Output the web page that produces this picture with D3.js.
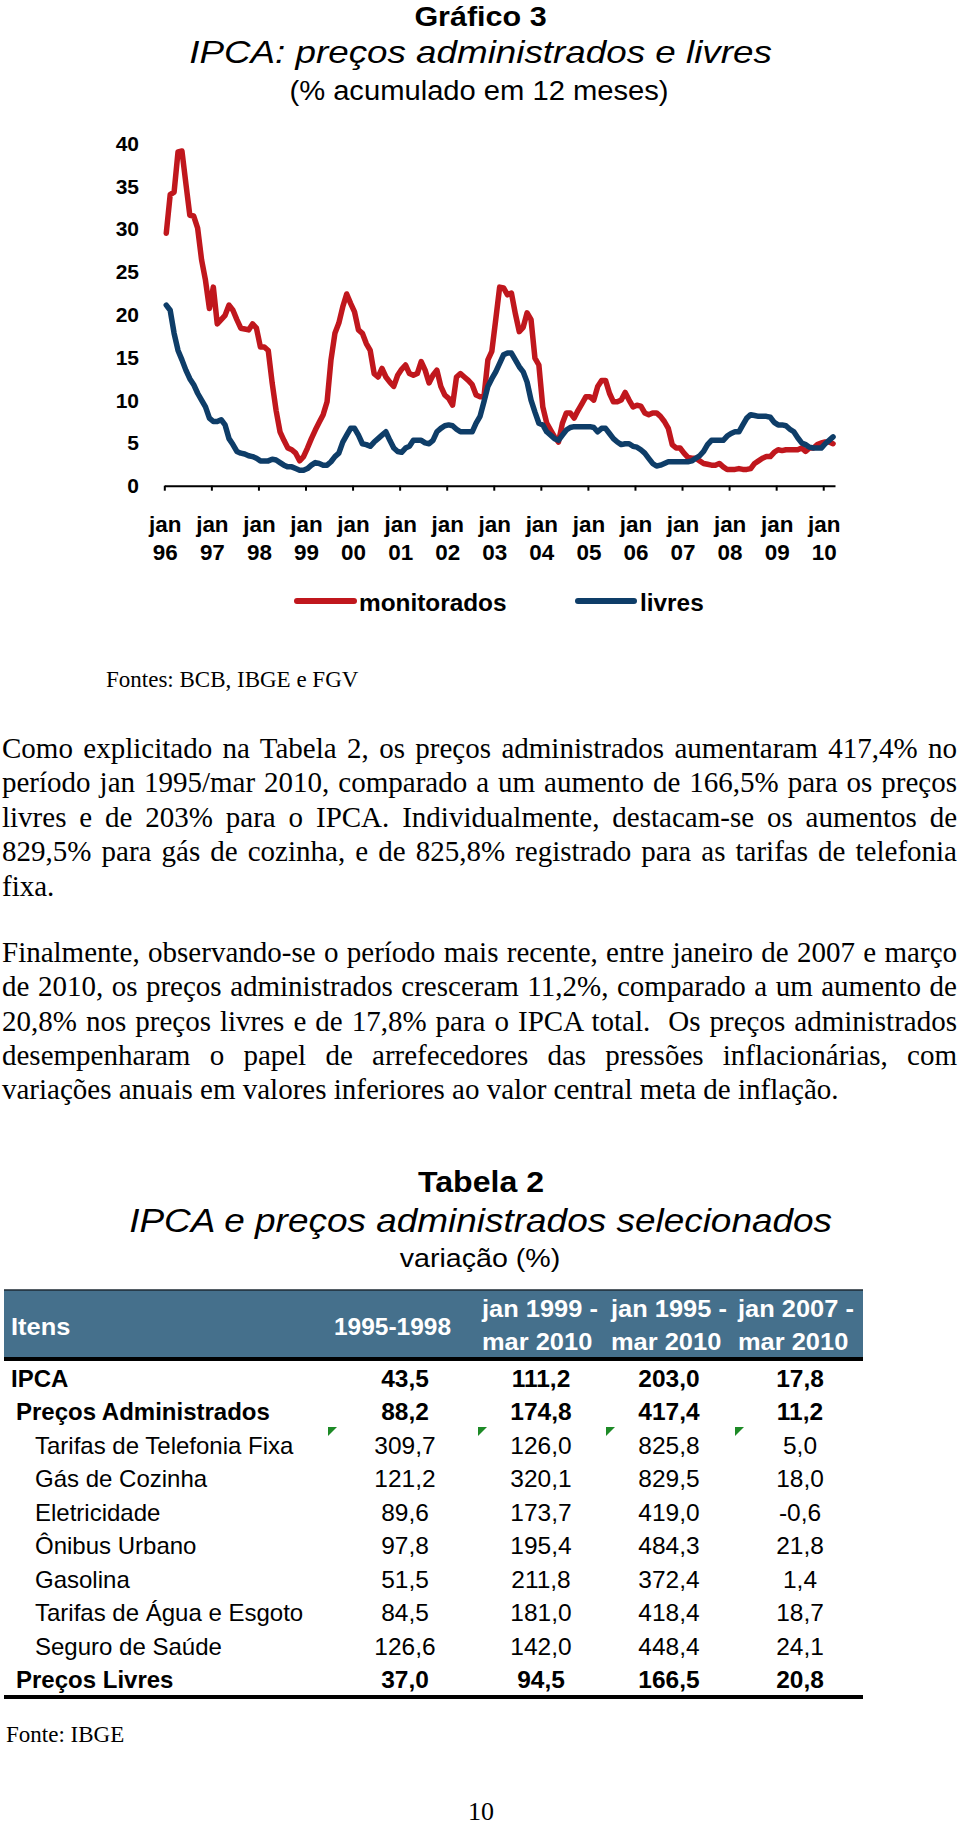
<!DOCTYPE html>
<html><head><meta charset="utf-8">
<script src="https://cdn.jsdelivr.net/npm/d3@7/dist/d3.min.js"></script>
<style>
html,body{margin:0;padding:0;background:#fff;}
svg{display:block;}
</style></head><body>
<svg id="page" width="960" height="1828"></svg>
<script>
// ---------------- DATA ----------------
const yearLabels = ["96","97","98","99","00","01","02","03","04","05","06","07","08","09","10"];
const yTicks = [0,5,10,15,20,25,30,35,40];
// % acumulado em 12 meses, monthly jan 1996 .. mar 2010
const monitorados = [
 29.5,34.0,34.3,39.0,39.1,35.3,31.6,31.5,30.1,26.4,24.0,20.7,
 23.2,18.9,19.4,19.9,21.1,20.5,19.4,18.4,18.3,18.2,18.9,18.4,
 16.2,16.2,15.8,12.0,8.8,6.3,5.3,4.4,4.2,3.8,2.9,3.4,
 4.4,5.5,6.5,7.4,8.3,9.8,14.7,17.8,19.0,20.9,22.4,21.3,
 20.3,18.2,17.8,16.6,15.8,13.1,12.7,13.7,12.7,12.1,11.6,12.9,
 13.6,14.1,13.1,12.9,13.1,14.5,13.5,12.0,12.9,13.5,11.6,10.6,
 10.2,9.4,12.7,13.1,12.7,12.3,11.8,10.6,10.4,10.4,14.7,15.7,
 19.4,23.2,23.1,22.3,22.5,20.1,18.0,18.5,20.2,19.4,14.9,14.1,
 9.2,7.3,6.5,5.7,5.1,7.3,8.5,8.5,7.9,8.8,9.6,10.4,
 10.4,10.0,11.6,12.3,12.3,10.8,9.8,9.8,10.0,10.9,10.0,9.2,
 9.4,9.3,8.5,8.3,8.5,8.5,8.1,7.5,6.7,4.8,4.4,4.4,
 3.8,3.3,3.2,3.2,2.9,2.6,2.5,2.4,2.4,2.6,2.2,1.9,
 1.9,1.9,2.0,1.9,1.9,2.0,2.6,2.9,3.2,3.4,3.4,3.9,
 4.2,4.1,4.2,4.2,4.2,4.2,4.4,4.0,4.4,4.4,4.8,5.0,
 5.1,5.1,4.9
];
const livres = [
 21.1,20.5,17.8,15.8,14.7,13.5,12.5,11.8,10.8,10.0,9.2,7.9,
 7.5,7.5,7.7,7.1,5.5,4.8,4.0,3.8,3.7,3.5,3.4,3.2,
 2.9,2.9,2.9,3.1,3.0,2.7,2.4,2.2,2.2,2.0,1.8,1.8,
 2.0,2.4,2.7,2.6,2.4,2.4,2.8,3.4,3.8,5.1,5.9,6.7,
 6.7,5.9,4.9,4.8,4.6,5.1,5.5,5.9,6.3,5.3,4.4,4.0,
 3.9,4.4,4.6,5.3,5.3,5.3,5.0,4.9,5.3,6.3,6.7,7.0,
 7.1,7.0,6.6,6.3,6.3,6.3,6.3,7.3,8.1,9.8,11.6,12.5,
 13.3,14.3,15.3,15.5,15.5,14.7,13.9,13.3,12.1,10.0,8.6,7.3,
 7.1,6.3,5.9,5.5,5.3,5.9,6.5,6.8,6.9,6.9,6.9,6.9,
 6.9,6.8,6.3,6.7,6.7,6.1,5.5,5.1,4.8,4.9,4.9,4.6,
 4.5,4.2,3.8,3.2,2.6,2.3,2.4,2.6,2.8,2.8,2.8,2.8,
 2.8,2.8,2.9,3.2,3.5,4.0,4.8,5.3,5.3,5.3,5.3,5.8,
 6.1,6.3,6.3,7.1,7.9,8.3,8.2,8.1,8.1,8.1,8.0,7.4,
 7.1,7.1,7.0,6.6,6.3,5.6,5.0,4.8,4.5,4.4,4.4,4.4,
 4.9,5.3,5.7
];
const seriesNames = ["monitorados","livres"];
const seriesColors = ["#c0171d","#0e3d68"];

const paragraph1 = [
 "Como explicitado na Tabela 2, os preços administrados aumentaram 417,4% no",
 "período jan 1995/mar 2010, comparado a um aumento de 166,5% para os preços",
 "livres e de 203% para o IPCA. Individualmente, destacam-se os aumentos de",
 "829,5% para gás de cozinha, e de 825,8% registrado para as tarifas de telefonia",
 "fixa."
];
const paragraph2 = [
 "Finalmente, observando-se o período mais recente, entre janeiro de 2007 e março",
 "de 2010, os preços administrados cresceram 11,2%, comparado a um aumento de",
 "20,8% nos preços livres e de 17,8% para o IPCA total.  Os preços administrados",
 "desempenharam o papel de arrefecedores das pressões inflacionárias, com",
 "variações anuais em valores inferiores ao valor central meta de inflação."
];

const tableItems = ["IPCA","Preços Administrados","Tarifas de Telefonia Fixa","Gás de Cozinha","Eletricidade","Ônibus Urbano","Gasolina","Tarifas de Água e Esgoto","Seguro de Saúde","Preços Livres"];
const itemLevel = [0,1,2,2,2,2,2,2,2,1];
const itemBold = [true,true,false,false,false,false,false,false,false,true];
const headerCols = [["1995-1998"],["jan 1999 -","mar 2010"],["jan 1995 -","mar 2010"],["jan 2007 -","mar 2010"]];
const col1995_1998 = ["43,5","88,2","309,7","121,2","89,6","97,8","51,5","84,5","126,6","37,0"];
const colJan1999 = ["111,2","174,8","126,0","320,1","173,7","195,4","211,8","181,0","142,0","94,5"];
const colJan1995 = ["203,0","417,4","825,8","829,5","419,0","484,3","372,4","418,4","448,4","166,5"];
const colJan2007 = ["17,8","11,2","5,0","18,0","-0,6","21,8","1,4","18,7","24,1","20,8"];
const flaggedRow = 2; // cells with green error indicators

// ---------------- HELPERS ----------------
const SANS = "'Liberation Sans', Arial, sans-serif";
const SERIF = "'Liberation Serif', 'Times New Roman', serif";
const svg = d3.select("#page");

function T(parent, x, y, s, o = {}) {
  return parent.append("text")
    .attr("transform", `translate(${x},${y}) scale(${o.sx || 1},1)`)
    .attr("font-family", o.family || SANS)
    .attr("font-size", o.size || 20)
    .attr("font-weight", o.weight || "normal")
    .attr("font-style", o.style || "normal")
    .attr("text-anchor", o.anchor || "start")
    .attr("fill", o.fill || "#000")
    .style("white-space", "pre")
    .text(s);
}

function para(lines, x0, y0, pitch, width, size) {
  const g = svg.append("g");
  lines.forEach((str, i) => {
    const t = g.append("text").attr("x", x0).attr("y", y0 + i * pitch)
      .attr("font-family", SERIF).attr("font-size", size)
      .style("white-space", "pre").attr("fill", "#000").text(str);
    if (i < lines.length - 1) {
      const nat = t.node().getComputedTextLength();
      const nsp = (str.match(/ /g) || []).length;
      t.style("word-spacing", ((width - nat) / nsp) + "px");
      const after = t.node().getComputedTextLength();
      if (Math.abs(after - width) > 3) {
        t.style("word-spacing", null).attr("textLength", width).attr("lengthAdjust", "spacing");
      }
    }
  });
}

// ---------------- TITLES ----------------
T(svg, 480.5, 26, "Gráfico 3", {size: 27, weight: "bold", anchor: "middle", sx: 1.13});
T(svg, 480.5, 63, "IPCA: preços administrados e livres", {size: 32, style: "italic", anchor: "middle", sx: 1.15});
T(svg, 479, 100, "(% acumulado em 12 meses)", {size: 27, anchor: "middle", sx: 1.08});

// ---------------- CHART ----------------
const x = d3.scaleLinear().domain([0, 171]).range([164.3, 835]);
const y = d3.scaleLinear().domain([0, 40]).range([485.7, 143.3]);

const chart = svg.append("g");
// y labels
yTicks.forEach(v => {
  T(chart, 139, y(v) + 7.5, String(v), {size: 21, weight: "bold", anchor: "end"});
});
// x axis
const xAxis = d3.axisBottom(x).tickValues(d3.range(0, 169, 12)).tickSize(5).tickSizeOuter(0).tickFormat("");
const ax = chart.append("g").attr("transform", `translate(0,${y(0)})`).call(xAxis);
ax.select(".domain").attr("stroke", "#000").attr("stroke-width", 2);
ax.selectAll(".tick line").attr("stroke", "#000").attr("stroke-width", 2);
yearLabels.forEach((yl, k) => {
  const xx = x(12 * k) + 1;
  T(chart, xx, 532, "jan", {size: 22, weight: "bold", anchor: "middle", sx: 1.02});
  T(chart, xx, 560, yl, {size: 22, weight: "bold", anchor: "middle", sx: 1.02});
});
// lines
const line = d3.line().x((d, i) => x(i + 0.5)).y(d => y(d));
[monitorados, livres].forEach((s, k) => {
  chart.append("path").datum(s).attr("d", line)
    .attr("fill", "none").attr("stroke", seriesColors[k]).attr("stroke-width", 5.5)
    .attr("stroke-linejoin", "round").attr("stroke-linecap", "round");
});
// legend
const legendX = [[297, 354, 359], [578, 634, 640]];
seriesNames.forEach((n, k) => {
  chart.append("line").attr("x1", legendX[k][0]).attr("x2", legendX[k][1]).attr("y1", 601).attr("y2", 601)
    .attr("stroke", seriesColors[k]).attr("stroke-width", 6).attr("stroke-linecap", "round");
  T(chart, legendX[k][2], 611, n, {size: 23, weight: "bold", sx: 1.06});
});
T(svg, 106, 687, "Fontes: BCB, IBGE e FGV", {size: 23, family: SERIF});

// ---------------- TEXT ----------------
para(paragraph1, 2, 758, 34.4, 955, 29);
para(paragraph2, 2, 962, 34.3, 955, 29);

// ---------------- TABLE ----------------
T(svg, 481, 1192, "Tabela 2", {size: 30, weight: "bold", anchor: "middle", sx: 1.07});
T(svg, 480.6, 1232, "IPCA e preços administrados selecionados", {size: 33, style: "italic", anchor: "middle", sx: 1.12});
T(svg, 480, 1267, "variação (%)", {size: 26, anchor: "middle", sx: 1.1});

const tbl = svg.append("g");
const tL = 4, tR = 863;
tbl.append("rect").attr("x", tL).attr("y", 1290).attr("width", tR - tL).attr("height", 68).attr("fill", "#45708c");
tbl.append("line").attr("x1", tL).attr("x2", tR).attr("y1", 1290).attr("y2", 1290).attr("stroke", "#1e2a33").attr("stroke-width", 1.5);
tbl.append("line").attr("x1", tL).attr("x2", tR).attr("y1", 1359).attr("y2", 1359).attr("stroke", "#000").attr("stroke-width", 4);
T(tbl, 11, 1335, "Itens", {size: 24, weight: "bold", fill: "#fff", sx: 1.06});
T(tbl, 451, 1335, headerCols[0][0], {size: 24, weight: "bold", fill: "#fff", anchor: "end", sx: 1.02});
const hdrX = [482, 611, 738];
[1, 2, 3].forEach((c, j) => {
  T(tbl, hdrX[j], 1317, headerCols[c][0], {size: 24, weight: "bold", fill: "#fff", sx: 1.06});
  T(tbl, hdrX[j], 1350, headerCols[c][1], {size: 24, weight: "bold", fill: "#fff", sx: 1.06});
});

const cols = [col1995_1998, colJan1999, colJan1995, colJan2007];
const colCenter = [405, 541, 669, 800];
const rowY = d3.scaleLinear().domain([0, 9]).range([1387, 1688]);
const indent = [11, 16, 35];
tableItems.forEach((it, r) => {
  const w = itemBold[r] ? "bold" : "normal";
  T(tbl, indent[itemLevel[r]], rowY(r), it, {size: 24, weight: w});
  cols.forEach((col, c) => {
    T(tbl, colCenter[c], rowY(r), col[r], {size: 24, weight: w, anchor: "middle", sx: 1.02});
  });
});
// green error indicators
const flagX = [328, 478, 606, 735];
flagX.forEach(fx => {
  tbl.append("path").attr("d", `M${fx},${rowY(flaggedRow) - 27} h9 l-9,9 z`).attr("fill", "#1d8a26");
});
tbl.append("line").attr("x1", tL).attr("x2", tR).attr("y1", 1697).attr("y2", 1697).attr("stroke", "#000").attr("stroke-width", 4);

T(svg, 6, 1742, "Fonte: IBGE", {size: 23, family: SERIF});
T(svg, 481, 1820, "10", {size: 26, family: SERIF, anchor: "middle"});
</script>
</body></html>
